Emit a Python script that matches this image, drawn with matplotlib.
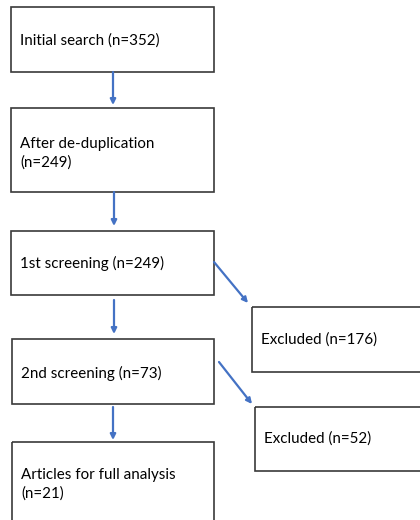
import matplotlib
matplotlib.use('Agg')
from matplotlib import pyplot as plt
from matplotlib import patches

# box texts (main column, then the two excluded boxes)
main_labels = ['Initial search (n=352)',
               'After de-duplication\n(n=249)',
               '1st screening (n=249)',
               '2nd screening (n=73)',
               'Articles for full analysis\n(n=21)']
excl_labels = ['Excluded (n=176)', 'Excluded (n=52)']

# layout in pixels (x0, y0 top, x1, y1 bottom)
main_boxes = [(11, 7, 214, 72),
              (11, 108, 214, 192),
              (11, 231, 214, 295),
              (12, 339, 214, 404),
              (12, 442, 214, 530)]
main_text_y = [41, 153, 263, 373, 484]
excl_boxes = [(252, 307, 425, 372),
              (255, 407, 425, 471)]
excl_text_y = [340, 439]

border = '#3a3a3a'
arrow_col = '#4472C4'
font = ['Lato', 'DejaVu Sans']

fig = plt.figure(figsize=(4.2, 5.2), dpi=100)
ax = fig.add_axes([0, 0, 1, 1])
ax.set_xlim(0, 420)
ax.set_ylim(520, 0)
ax.axis('off')

def draw_box(box, label, ty, tx):
    x0, y0, x1, y1 = box
    ax.add_patch(patches.Rectangle((x0, y0), x1 - x0, y1 - y0, fill=False,
                                   edgecolor=border, linewidth=1.2))
    ax.text(tx, ty, label, ha='left', va='center', fontsize=10.9,
            family=font, color='#000000', linespacing=1.4)

for box, label, ty in zip(main_boxes, main_labels, main_text_y):
    draw_box(box, label, ty, box[0] + 9)
for box, label, ty in zip(excl_boxes, excl_labels, excl_text_y):
    draw_box(box, label, ty, box[0] + 9)

def arrow(x0, y0, x1, y1):
    ax.annotate('', xy=(x1, y1), xytext=(x0, y0),
                arrowprops=dict(arrowstyle='-|>', color=arrow_col, lw=1.6,
                                mutation_scale=8, shrinkA=0, shrinkB=0))

# vertical arrows between main boxes
arrow(113, 72, 113, 105)
arrow(114, 192, 114, 226)
arrow(114, 300, 114, 334)
arrow(113, 407, 113, 440)
# diagonal arrows to excluded boxes
arrow(214, 262, 248, 303)
arrow(219, 362, 252, 404)

fig.savefig('out.png', dpi=100)
